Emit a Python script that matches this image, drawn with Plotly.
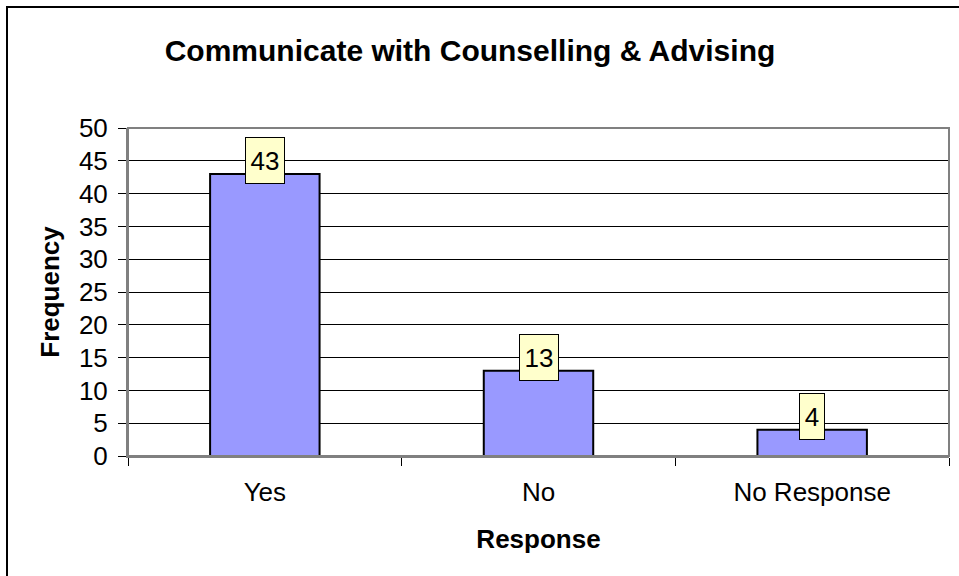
import plotly.graph_objects as go

categories = ["Yes", "No", "No Response"]
values = [43, 13, 4]
y_ticks = [0, 5, 10, 15, 20, 25, 30, 35, 40, 45, 50]

L, R, T, B = 128, 10, 128, 120
W, H = 959, 576
pw, ph = W - L - R, H - T - B

FONT = "Arial, Liberation Sans, sans-serif"

fig = go.Figure(go.Bar(
    x=categories, y=values, width=0.4,
    marker=dict(color="#9999FF", line=dict(color="black", width=2)),
    hoverinfo="skip",
))

for c, v in zip(categories, values):
    txt = str(v)
    fig.add_annotation(x=c, y=v, xref="x", yref="y", text=txt, showarrow=False,
                       bgcolor="#FFFFCC", bordercolor="black", borderwidth=1, borderpad=1,
                       width=14 * len(txt) + 8, height=43, yshift=13,
                       font=dict(family=FONT, size=26, color="black"),
                       yanchor="middle", xanchor="center", valign="middle")

# plot area border (gray)
fig.add_shape(type="rect", xref="paper", yref="paper", x0=0, x1=1, y0=0, y1=1,
              line=dict(color="#808080", width=2), layer="above")
# outer chart border (only top & left visible in frame)
fig.add_shape(type="rect", xref="paper", yref="paper",
              x0=(7 - L) / pw, x1=(990 - L) / pw,
              y0=-(620 - (T + ph)) / ph, y1=1 + (T - 7) / ph,
              line=dict(color="black", width=2))

fig.update_layout(
    width=W, height=H,
    margin=dict(l=L, r=R, t=T, b=B),
    paper_bgcolor="white", plot_bgcolor="white",
    showlegend=False,
    font=dict(family=FONT, color="black"),
    title=dict(text="<b>Communicate with Counselling & Advising</b>",
               x=470 / W, xanchor="center", y=1 - 50 / H, yanchor="middle",
               font=dict(size=30, color="black")),
    xaxis=dict(
        type="category", tickson="boundaries", ticks="outside", ticklen=8,
        tickcolor="black", showgrid=False, showline=True, linecolor="#808080", linewidth=2,
        tickfont=dict(size=26), ticklabelstandoff=12,
        title=dict(text="<b>Response</b>", font=dict(size=26), standoff=24),
    ),
    yaxis=dict(
        range=[0, 50], tickvals=y_ticks, ticks="outside", ticklen=8, tickcolor="black",
        showgrid=True, gridcolor="black", gridwidth=1,
        showline=True, linecolor="#808080", linewidth=2,
        tickfont=dict(size=26), ticklabelstandoff=5,
        title=dict(text="<b>Frequency</b>", font=dict(size=26), standoff=12),
        zeroline=False,
    ),
)

fig.write_html("out.html", config={"displayModeBar": False},
               post_script="document.body.style.margin='0';document.body.style.overflow='hidden';")
